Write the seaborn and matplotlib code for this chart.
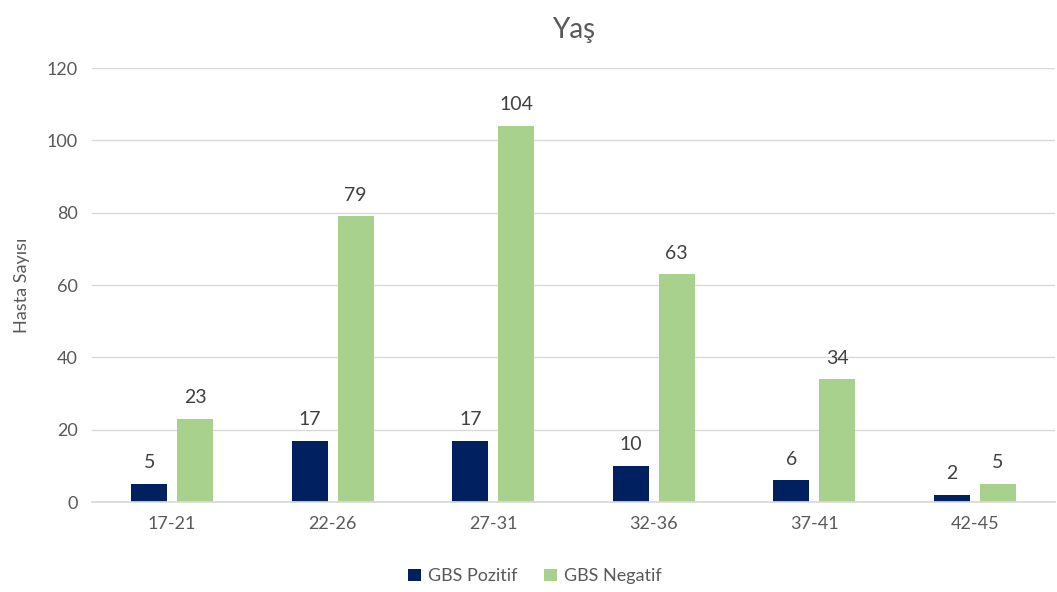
import matplotlib
matplotlib.use("Agg")
import matplotlib.pyplot as plt
import seaborn as sns
import pandas as pd

categories = ["17-21", "22-26", "27-31", "32-36", "37-41", "42-45"]
pozitif = [5, 17, 17, 10, 6, 2]
negatif = [23, 79, 104, 63, 34, 5]
series_names = ["GBS Pozitif", "GBS Negatif"]
y_ticks = [0, 20, 40, 60, 80, 100, 120]

df = pd.DataFrame({
    "Yaş": categories * 2,
    "Sayı": pozitif + negatif,
    "Grup": [series_names[0]] * len(categories) + [series_names[1]] * len(categories),
})

sns.set_theme(style="white")
plt.rcParams["font.family"] = ["Lato", "DejaVu Sans"]
txt = "#595959"

fig = plt.figure(figsize=(10.57, 5.92), dpi=100)
ax = fig.add_axes([0.087, 0.152, 0.911, 0.733])

sns.barplot(data=df, x="Yaş", y="Sayı", hue="Grup", order=categories,
            hue_order=series_names, palette=["#002060", "#A9D18E"],
            saturation=1, width=0.572, gap=0.217, ax=ax, legend=True,
            linewidth=0)

for c in ax.containers:
    ax.bar_label(c, fmt="%d", padding=9, fontsize=14, color="#404040")

ax.set_ylim(0, 120)
ax.set_yticks(y_ticks)
ax.yaxis.grid(True, color="#D9D9D9", linewidth=1)
ax.set_axisbelow(True)
for s in ["top", "right", "left"]:
    ax.spines[s].set_visible(False)
ax.spines["bottom"].set_color("#D9D9D9")
ax.tick_params(axis="both", length=0, labelsize=13, colors=txt, pad=10)
ax.set_xlabel("")
ax.set_ylabel("Hasta Sayısı", fontsize=13, color=txt, labelpad=12)
ax.set_title("Yaş", fontsize=20, color=txt, pad=22)

leg = ax.legend(loc="upper center", bbox_to_anchor=(0.46, -0.115), ncol=2,
                frameon=False, fontsize=13, handlelength=0.7, handleheight=0.7,
                columnspacing=1.5, handletextpad=0.4)
for t in leg.get_texts():
    t.set_color(txt)

fig.savefig("out.png", dpi=100)
